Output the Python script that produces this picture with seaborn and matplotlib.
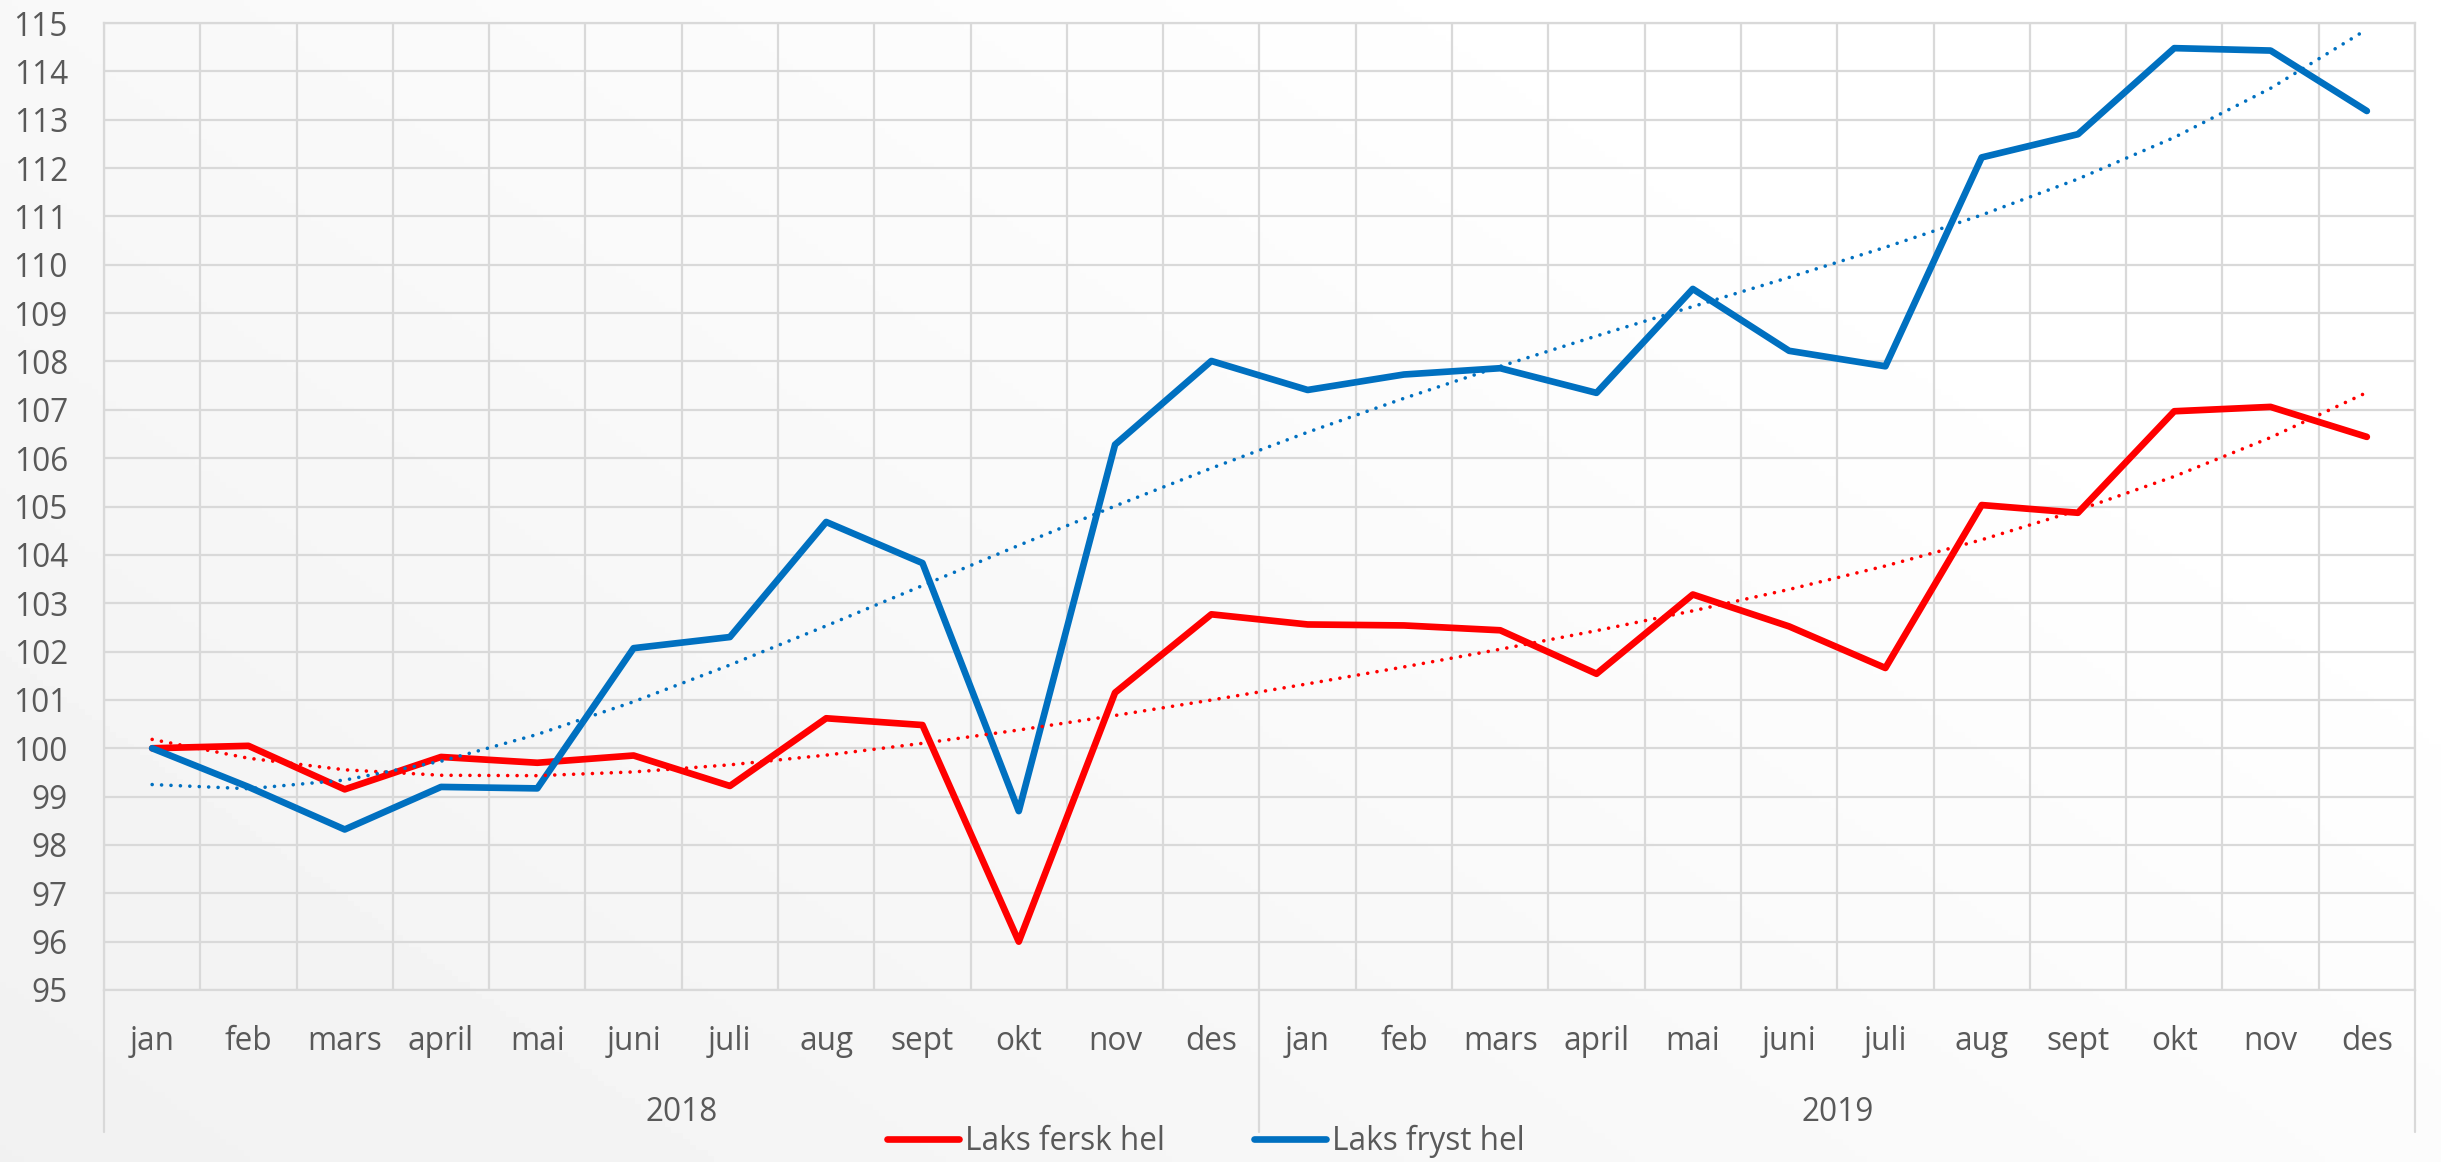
import numpy as np
import pandas as pd
import matplotlib
matplotlib.use("Agg")
import matplotlib.pyplot as plt
import seaborn as sns
from matplotlib.lines import Line2D
from matplotlib.transforms import blended_transform_factory

# data
months = ["jan", "feb", "mars", "april", "mai", "juni", "juli", "aug", "sept", "okt", "nov", "des"]
years = ["2018", "2019"]
fersk = [100.0, 100.05, 99.15, 99.82, 99.7, 99.85, 99.22, 100.62, 100.48, 96.0, 101.15, 102.77,
         102.56, 102.54, 102.44, 101.54, 103.18, 102.52, 101.66, 105.03, 104.87, 106.97, 107.06, 106.44]
fryst = [100.0, 99.2, 98.32, 99.2, 99.17, 102.07, 102.3, 104.68, 103.83, 98.7, 106.28, 108.01,
         107.41, 107.73, 107.86, 107.35, 109.5, 108.22, 107.9, 112.22, 112.7, 114.48, 114.43, 113.18]
series_names = ["Laks fersk hel", "Laks fryst hel"]
colors = {"Laks fersk hel": "#FF0000", "Laks fryst hel": "#0070C0"}

sns.set_style("white")
plt.rcParams['font.family'] = ['Open Sans', 'DejaVu Sans']
txt_color = "#595959"
grid_color = "#D9D9D9"

pos = np.arange(len(fersk))
df = pd.DataFrame({"pos": pos, series_names[0]: fersk, series_names[1]: fryst})
long = df.melt(id_vars="pos", var_name="serie", value_name="indeks")

# polynomial trendlines (order 4), like Excel
trend = []
for name in series_names:
    c = np.polyfit(df["pos"], df[name], 4)
    trend.append(pd.DataFrame({"pos": pos, "serie": name, "indeks": np.polyval(c, pos)}))
trend = pd.concat(trend)

fig = plt.figure(figsize=(24.41, 11.62), dpi=100)

# soft gradient background
bg = fig.add_axes([0, 0, 1, 1], zorder=-10)
gx, gy = np.meshgrid(np.linspace(0, 1, 400), np.linspace(0, 1, 200))
g = 0.945 + 0.055 * np.clip(0.75 * gx + 0.5 * gy, 0, 1)
bg.imshow(g, cmap="gray", vmin=0, vmax=1, extent=[0, 1, 0, 1], origin="lower", aspect="auto")
bg.axis("off")

ax = fig.add_axes([104 / 2441, 1 - 990 / 1162, (2415 - 104) / 2441, (990 - 23) / 1162])
ax.set_facecolor("none")

sns.lineplot(data=long, x="pos", y="indeks", hue="serie", palette=colors, lw=4.8,
             legend=False, ax=ax, solid_joinstyle="round", solid_capstyle="round", zorder=3)
for name in series_names:
    sub = trend[trend["serie"] == name]
    ax.plot(sub["pos"], sub["indeks"], color=colors[name], lw=2.6,
            linestyle=(0, (0.01, 2.6)), dash_capstyle="round", zorder=4)

ax.set_xlim(-0.5, len(pos) - 0.5)
ax.set_ylim(95, 115)
ax.set_yticks(np.arange(95, 116, 1))
ax.set_xticks(np.arange(-0.5, len(pos), 1), minor=False)
ax.set_xticklabels([])
ax.grid(True, color=grid_color, lw=1.6)
ax.tick_params(axis="both", length=0)
ax.tick_params(axis="y", labelsize=22.7, labelcolor=txt_color, pad=26)
for s in ax.spines.values():
    s.set_color(grid_color)
    s.set_linewidth(1.6)
ax.set_xlabel("")
ax.set_ylabel("")

# category labels (month, then year)
tr = blended_transform_factory(ax.transData, fig.transFigure)
labels = [m for y in years for m in months]
for i, lab in enumerate(labels):
    ax.text(i, 1 - 1050 / 1162, lab, transform=tr, ha="center", va="baseline",
            fontsize=22.7, color=txt_color)
for j, yr in enumerate(years):
    ax.text(j * 12 + 5.5, 1 - 1121 / 1162, yr, transform=tr, ha="center", va="baseline",
            fontsize=22.7, color=txt_color)
for xb in [-0.5, 11.5, 23.5]:
    ax.add_line(Line2D([xb, xb], [1 - 990 / 1162, 1 - 1132 / 1162], transform=tr,
                       color=grid_color, lw=1.6, clip_on=False))

handles = [Line2D([0], [0], color=colors[n], lw=4.8, solid_capstyle="round") for n in series_names]
leg = fig.legend(handles, series_names, loc="center", bbox_to_anchor=(0.494, 1 - 1141 / 1162),
                 ncol=2, frameon=False, fontsize=22.7, handlelength=2.3, handletextpad=0.2,
                 columnspacing=2.8, borderpad=0, borderaxespad=0)
for t in leg.get_texts():
    t.set_color(txt_color)

fig.savefig("out.png", dpi=100)
